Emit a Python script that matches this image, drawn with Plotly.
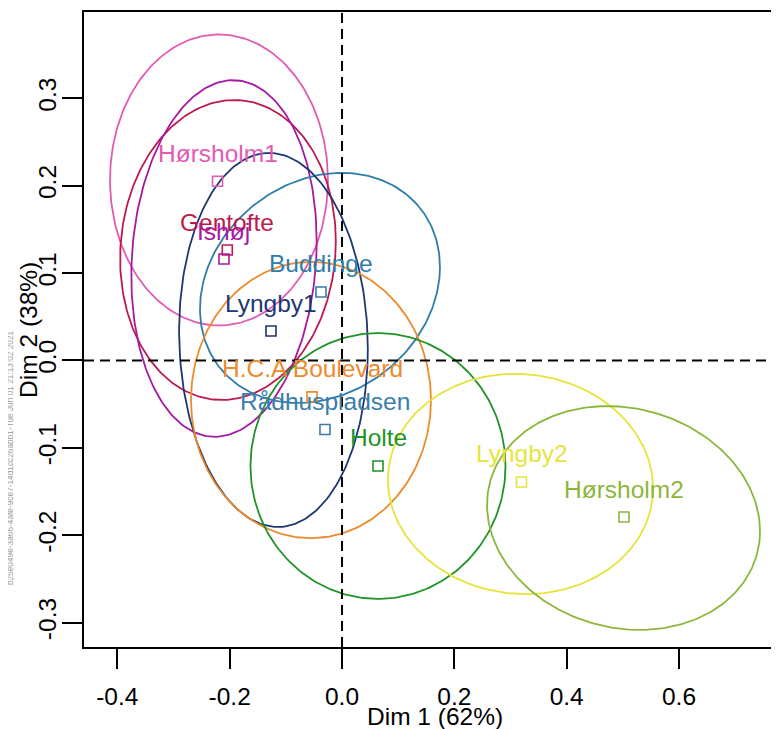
import numpy as np
import plotly.graph_objects as go

# ---- data ----
names = ["Hørsholm1", "Gentofte", "Ishøj", "Buddinge", "Lyngby1",
         "H.C.A Boulevard", "Rådhuspladsen", "Holte", "Lyngby2", "Hørsholm2"]
dim1 = [-0.2216, -0.2042, -0.2101, -0.0374, -0.1264, -0.0534, -0.0303, 0.0641, 0.3196, 0.5020]
dim2 = [0.2050, 0.1264, 0.1161, 0.0784, 0.0337, -0.0416, -0.0789, -0.1207, -0.1390, -0.1791]
colors = ["#E35AB2", "#BC1A4C", "#A619A3", "#2F7DAA", "#1D3774",
          "#EC8A2C", "#3A7DAA", "#1E9427", "#E6E43A", "#8DB63C"]

# confidence ellipses: centre, x semi-extent, y semi-extent, y-offset of rightmost point
ell_names = ["Hørsholm1", "Gentofte", "Ishøj", "Buddinge", "Lyngby1",
             "H.C.A Boulevard", "Holte", "Lyngby2", "Hørsholm2"]
ell_cx = [-0.219, -0.2030, -0.2101, -0.0392, -0.122, -0.0552, 0.0641, 0.3178, 0.5012]
ell_cy = [0.2065, 0.1264, 0.1167, 0.0830, 0.0235, -0.0452, -0.1207, -0.1413, -0.1802]
ell_ax = [0.194, 0.192, 0.165, 0.2136, 0.168, 0.2136, 0.227, 0.236, 0.243]
ell_ay = [0.1665, 0.1716, 0.204, 0.1316, 0.214, 0.158, 0.152, 0.126, 0.128]
ell_shear = [0.0, 0.01, 0.02, 0.024, -0.01, 0.0, 0.0, -0.005, -0.015]

x_ticks = [-0.4, -0.2, 0.0, 0.2, 0.4, 0.6]
x_tick_text = ["-0.4", "-0.2", "0.0", "0.2", "0.4", "0.6"]
y_ticks = [-0.3, -0.2, -0.1, 0.0, 0.1, 0.2, 0.3]
y_tick_text = ["-0.3", "-0.2", "-0.1", "0.0", "0.1", "0.2", "0.3"]

x_title = "Dim 1 (62%)"
y_title = "Dim 2 (38%)"
stamp = "b25e049e-3a66-4afe-9ce7-14d1cc26abb1-Tue Jun 01 21:13:02 2021"

FONT = "Liberation Sans, Arial, sans-serif"
FS = 24.5
col_of = dict(zip(names, colors))

fig = go.Figure()

t = np.linspace(0, 2 * np.pi, 240)
for n, cx, cy, a, h, c in zip(ell_names, ell_cx, ell_cy, ell_ax, ell_ay, ell_shear):
    b = np.sqrt(max(h * h - c * c, 1e-9))
    ex = cx + a * np.cos(t)
    ey = cy + b * np.sin(t) + c * np.cos(t)
    fig.add_trace(go.Scatter(x=ex, y=ey, mode="lines",
                             line=dict(color=col_of[n], width=1.8),
                             hoverinfo="skip", showlegend=False))

fig.add_trace(go.Scatter(x=dim1, y=dim2, mode="markers",
                         marker=dict(symbol="square-open", size=10, color=colors,
                                     line=dict(width=1.6, color=colors)),
                         showlegend=False))

for n, x, y, c in zip(names, dim1, dim2, colors):
    fig.add_annotation(x=x, y=y, text=n, showarrow=False, yshift=28,
                       font=dict(family=FONT, size=FS, color=c))

# dashed zero lines
fig.add_hline(y=0, line=dict(color="black", width=2, dash="10px,6px"))
fig.add_vline(x=0, line=dict(color="black", width=2, dash="10px,6px"))

fig.add_annotation(text=x_title, xref="paper", yref="paper", x=0.505, y=-0.1087,
                   showarrow=False, font=dict(family=FONT, size=FS, color="black"),
                   xanchor="center", yanchor="middle")
fig.add_annotation(text=y_title, xref="paper", yref="paper", x=-0.08, y=0.5,
                   showarrow=False, textangle=-90,
                   font=dict(family=FONT, size=FS, color="black"),
                   xanchor="center", yanchor="middle")
fig.add_annotation(text=stamp, xref="paper", yref="paper", x=-0.1065, y=0.299,
                   showarrow=False, textangle=-90,
                   font=dict(family=FONT, size=8.3, color="#9C9C9C"),
                   xanchor="center", yanchor="middle")

fig.update_xaxes(range=[-0.4593, 0.778], tickvals=x_ticks, ticktext=x_tick_text,
                 ticks="outside", ticklen=20, tickwidth=1.5, tickcolor="black",
                 showline=True, linecolor="black", linewidth=1.6, mirror=True,
                 showgrid=False, zeroline=False, ticklabelstandoff=7,
                 tickfont=dict(family=FONT, size=FS, color="black"))
fig.update_yaxes(range=[-0.3278, 0.3987], tickvals=y_ticks, ticktext=y_tick_text,
                 ticks="outside", ticklen=20, tickwidth=1.5, tickcolor="black",
                 showline=True, linecolor="black", linewidth=1.6, mirror=False,
                 showgrid=False, zeroline=False, tickangle=-90, ticklabelstandoff=-4,
                 tickfont=dict(family=FONT, size=FS, color="black"))

# the page body adds an 8px offset, so the figure is 8px smaller and margins shifted
fig.update_layout(width=771, height=721, margin=dict(l=76, r=0, t=4, b=82),
                  plot_bgcolor="white", paper_bgcolor="white", showlegend=False)

fig.write_html("out.html")
